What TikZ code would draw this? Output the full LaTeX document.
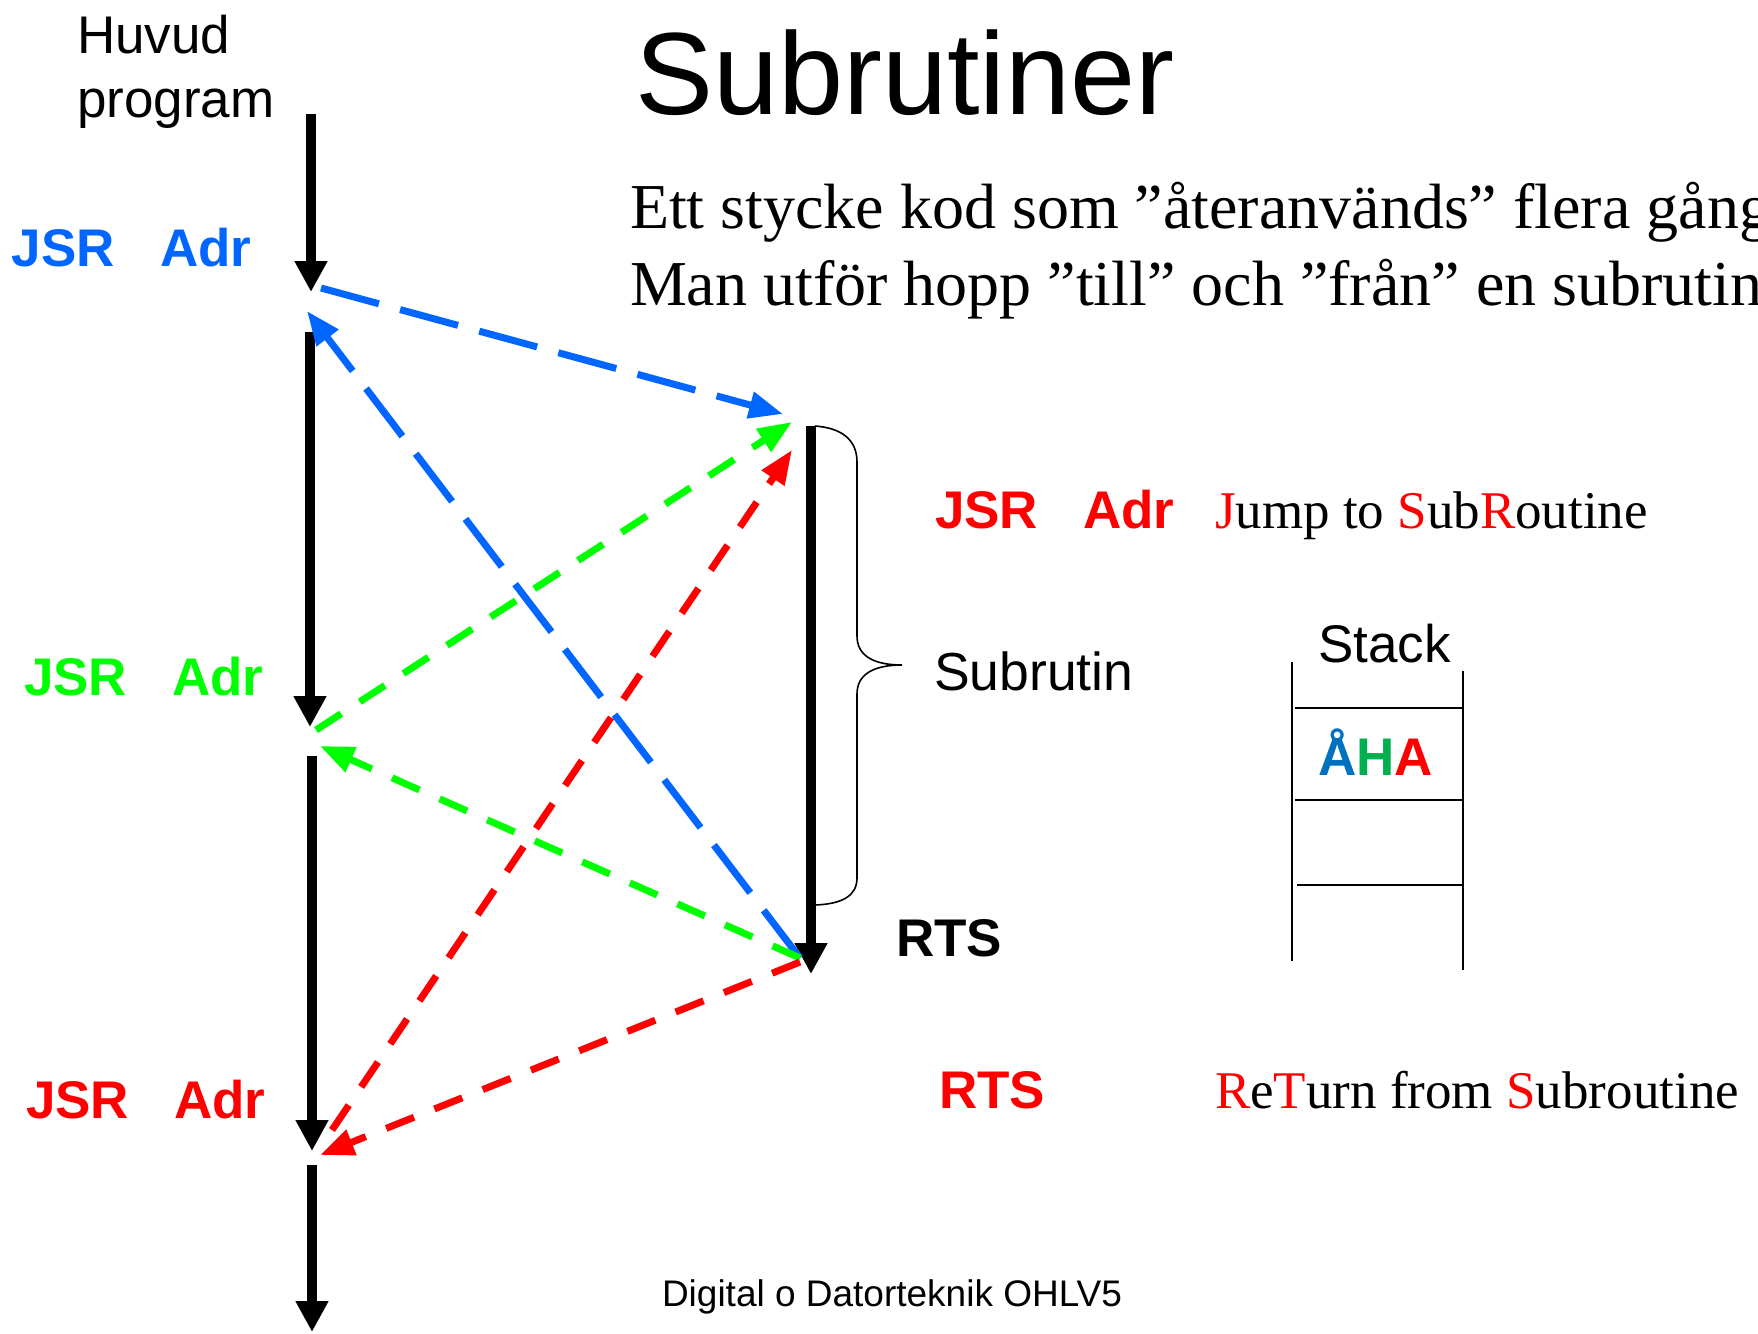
\documentclass[tikz,border=0pt]{standalone}
\usepackage{fontspec}
\setmainfont{Liberation Sans}
\newfontfamily\timesfont{Liberation Serif}
\usetikzlibrary{arrows.meta}
\definecolor{jblue}{HTML}{0066FF}
\definecolor{jgreen}{HTML}{00FF00}
\definecolor{jred}{HTML}{FF0000}
\definecolor{ablue}{HTML}{0070C0}
\definecolor{agreen}{HTML}{00B050}
\newcommand{\setsz}[1]{\fontsize{#1}{#1}\selectfont}
\newcommand{\jsradr}{JSR\hspace{45pt}Adr}
\begin{document}
\begin{tikzpicture}[x=1pt,y=-1pt,
  txt/.style={anchor=base west, inner sep=0pt, outer sep=0pt},
  flow/.style={line width=10pt, -{Triangle[length=31pt,width=31pt]}},
  jump/.style={line width=7pt, dash pattern=on 30pt off 22pt,
               -{Triangle[length=34pt,width=26pt]}},
  longjump/.style={jump, dash pattern=on 60pt off 22pt},
  stackline/.style={line width=2pt},
  brace/.style={line width=1.6pt}]
\path[use as bounding box, fill=white] (0,0) rectangle (1758,1333);
\clip (0,0) rectangle (1758,1333);

% main program flow
\coordinate (a1s) at (311,114);  \coordinate (a1e) at (311,292);
\coordinate (a2s) at (310,332);  \coordinate (a2e) at (310,727);
\coordinate (a3s) at (312,756);  \coordinate (a3e) at (312,1151);
\coordinate (a4s) at (312,1165); \coordinate (a4e) at (312,1332);
% subroutine flow
\coordinate (sbs) at (811,426);  \coordinate (sbe) at (811,974);

\draw[flow] (a1s) -- (a1e);
\draw[flow] (a2s) -- (a2e);
\draw[flow] (a3s) -- (a3e);
\draw[flow] (a4s) -- (a4e);
\draw[flow] (sbs) -- (sbe);

% jump and return points
\coordinate (bj) at (321,288);   \coordinate (bt) at (783,414);
\coordinate (gj) at (316,730);   \coordinate (gt) at (792,422);
\coordinate (rj) at (332,1130);  \coordinate (rt) at (792,450);
\coordinate (ret) at (800,958);  \coordinate (retr) at (800,962);
\coordinate (bback) at (307,311);
\coordinate (gback) at (320,746);
\coordinate (rback) at (320,1155);

\draw[longjump, jblue] (bj) -- (bt);
\draw[longjump, jblue] (ret) -- (bback);
\draw[jump, jgreen] (gj) -- (gt);
\draw[jump, jgreen] (ret) -- (gback);
\draw[jump, jred] (rj) -- (rt);
\draw[jump, jred] (retr) -- (rback);

% brace around the subroutine
\draw[brace] (815,426) .. controls (842,428) and (857,440) .. (857,462)
  -- (857,636) .. controls (857,656) and (874,665) .. (902,665)
  .. controls (874,665) and (857,674) .. (857,694)
  -- (857,878) .. controls (857,896) and (842,904) .. (815,905);

% stack
\draw[stackline] (1292,662) -- (1292,961);
\draw[stackline] (1463,671) -- (1463,970);
\draw[stackline] (1295,708) -- (1462,708);
\draw[stackline] (1295,800) -- (1462,800);
\draw[stackline] (1297,885) -- (1463,885);

% texts
\node[txt] (huvud) at (77,53) {\setsz{53}Huvud};
\node[txt] (prog) at (77,117) {\setsz{53}program};
\node[txt] (title) at (635,114) {\setsz{117}Subrutiner};
\node[txt] (l1) at (630,228) {\timesfont\setsz{64}Ett stycke kod som ”återanvänds” flera gånger};
\node[txt] (l2) at (630,305) {\timesfont\setsz{64}Man utför hopp ”till” och ”från” en subrutin};

\node[txt, text=jblue] (jsr1) at (12,266) {\setsz{53}\bfseries\jsradr};
\node[txt, text=jgreen] (jsr2) at (24,695) {\setsz{53}\bfseries\jsradr};
\node[txt, text=jred] (jsr3) at (26,1118) {\setsz{53}\bfseries\jsradr};

\node[txt, text=jred] (jsrk) at (935,528) {\setsz{53}\bfseries\jsradr};
\node[txt] (jsrx) at (1215,528) {\timesfont\setsz{53}{\color{jred}J}ump to {\color{jred}S}ub{\color{jred}R}outine};
\node[txt] (subr) at (934,690) {\setsz{53.5}Subrutin};
\node[txt] (stack) at (1318,662) {\setsz{53}Stack};
\node[txt] (aha) at (1318,775) {\setsz{53}\bfseries{\color{ablue}Å}{\color{agreen}H}{\color{jred}A}};
\node[txt] (rts) at (896,956) {\setsz{53}\bfseries RTS};
\node[txt, text=jred] (rtsk) at (939,1108) {\setsz{53}\bfseries RTS};
\node[txt] (rtsx) at (1215,1108) {\timesfont\setsz{53}{\color{jred}R}e{\color{jred}T}urn from {\color{jred}S}ubroutine};
\node[txt] (foot) at (662,1306) {\setsz{37}Digital o Datorteknik OHLV5};
\end{tikzpicture}
\end{document}
